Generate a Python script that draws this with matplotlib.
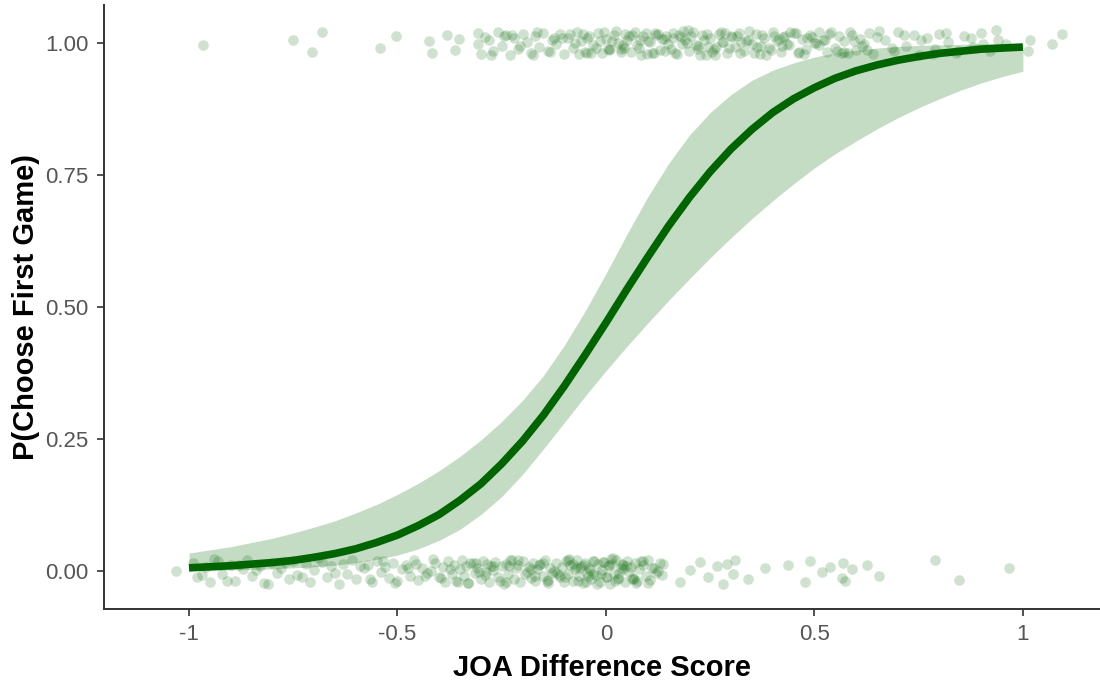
import numpy as np
import matplotlib
matplotlib.use("Agg")
import matplotlib.pyplot as plt

# ---------------- data ----------------
curve_x = [-1.0, -0.95, -0.9, -0.85, -0.8, -0.75, -0.7, -0.65, -0.6, -0.55, -0.5,
           -0.45, -0.4, -0.35, -0.3, -0.25, -0.2, -0.15, -0.1, -0.05, 0.0,
           0.05, 0.1, 0.15, 0.2, 0.25, 0.3, 0.35, 0.4, 0.45, 0.5,
           0.55, 0.6, 0.65, 0.7, 0.75, 0.8, 0.85, 0.9, 0.95, 1.0]
curve_p = [0.006, 0.008, 0.010, 0.013, 0.016, 0.020, 0.026, 0.033, 0.042, 0.054, 0.068,
           0.086, 0.107, 0.134, 0.165, 0.203, 0.246, 0.295, 0.350, 0.409, 0.470,
           0.533, 0.594, 0.653, 0.707, 0.756, 0.799, 0.836, 0.868, 0.894, 0.915,
           0.933, 0.947, 0.958, 0.967, 0.974, 0.980, 0.984, 0.988, 0.990, 0.992]
ci_low = [0.001, 0.001, 0.002, 0.003, 0.004, 0.006, 0.008, 0.011, 0.016, 0.022, 0.030,
          0.042, 0.058, 0.079, 0.107, 0.141, 0.183, 0.231, 0.281, 0.331, 0.379,
          0.425, 0.469, 0.512, 0.553, 0.593, 0.631, 0.667, 0.701, 0.733, 0.763,
          0.790, 0.814, 0.837, 0.858, 0.877, 0.894, 0.910, 0.924, 0.936, 0.946]
ci_high = [0.034, 0.040, 0.046, 0.054, 0.062, 0.072, 0.083, 0.095, 0.110, 0.126, 0.145,
           0.166, 0.190, 0.217, 0.248, 0.283, 0.323, 0.370, 0.427, 0.492, 0.563,
           0.637, 0.708, 0.771, 0.825, 0.868, 0.902, 0.929, 0.948, 0.962, 0.973,
           0.981, 0.986, 0.990, 0.993, 0.995, 0.996, 0.997, 0.998, 0.999, 0.999]

# observed choices: outcome 0 (second game) and 1 (first game)
zero_x = [-1.03, -0.99, -0.98, -0.96, -0.95, -0.93, -0.92, -0.90, -0.89, -0.87,
          -0.86, -0.85, -0.83, -0.82, -0.80, -0.79, -0.78, -0.76, -0.75, -0.74,
          -0.72, -0.71, -0.70, -0.68, -0.67, -0.66, -0.64, -0.63, -0.62, -0.61,
          -0.60, -0.58, -0.57, -0.56, -0.55, -0.54, -0.53, -0.52, -0.51, -0.50,
          -0.49, -0.48, -0.47, -0.46, -0.45, -0.44, -0.43, -0.42, -0.41, -0.40,
          -0.39, -0.385, -0.38, -0.37, -0.365, -0.36, -0.35, -0.345, -0.34, -0.335,
          -0.33, -0.32, -0.315, -0.31, -0.30, -0.295, -0.29, -0.285, -0.28, -0.27,
          -0.265, -0.26, -0.25, -0.245, -0.24, -0.235, -0.23, -0.22, -0.215, -0.21,
          -0.205, -0.20, -0.19, -0.185, -0.18, -0.175, -0.17, -0.165, -0.16, -0.15,
          -0.145, -0.14, -0.135, -0.13, -0.125, -0.12, -0.11, -0.105, -0.10, -0.095,
          -0.09, -0.085, -0.08, -0.075, -0.07, -0.065, -0.06, -0.055, -0.05, -0.045,
          -0.04, -0.035, -0.03, -0.025, -0.02, -0.015, -0.01, -0.005, 0.0, 0.005,
          0.01, 0.015, 0.02, 0.025, 0.03, 0.035, 0.04, 0.045, 0.05, 0.055,
          0.06, 0.065, 0.07, 0.075, 0.08, 0.09, 0.095, 0.10, 0.105, 0.11,
          0.12, 0.125, 0.13, -0.098, -0.072, -0.048, -0.028, -0.012, 0.008, 0.022,
          0.042, -0.21, -0.17, -0.27, -0.33, -0.152, -0.118, -0.062, 0.062, 0.085,
          0.134, 0.137, 0.177, 0.201, 0.225, 0.245, 0.266, 0.281, 0.290, 0.305,
          0.309, 0.341, 0.381, 0.436, 0.477, 0.489, 0.518, 0.537, 0.566, 0.568,
          0.573, 0.590, 0.626, 0.655, 0.789, 0.847, 0.966]
zero_x_more = [-0.97, -0.94, -0.91, -0.88, -0.84, -0.81, -0.77, -0.73, -0.69, -0.65,
               -0.59, -0.565, -0.535, -0.505, -0.475, -0.455, -0.435, -0.415, -0.395, -0.375,
               -0.355, -0.325, -0.305, -0.275, -0.255, -0.225, -0.195, -0.158, -0.138, -0.112,
               -0.088, -0.068, -0.052, -0.038, -0.022, -0.008, 0.003, 0.018, 0.032, 0.048,
               0.068, 0.088, 0.102, 0.115, -0.078, -0.042, 0.012, 0.028, -0.18, -0.24,
               -0.312, -0.288, -0.232, -0.142, -0.092, -0.032, 0.038, 0.072]
one_x = [-0.966, -0.751, -0.705, -0.681, -0.542, -0.504, -0.424, -0.417, -0.381, -0.362,
         -0.353, -0.307, -0.307,
         -0.30, -0.29, -0.28, -0.27, -0.26, -0.25, -0.24, -0.23, -0.22, -0.21,
         -0.20, -0.19, -0.18, -0.17, -0.16, -0.15, -0.14, -0.13, -0.12, -0.11,
         -0.10, -0.09, -0.08, -0.07, -0.06, -0.05, -0.04, -0.03, -0.02, -0.01,
         0.00, 0.01, 0.02, 0.03, 0.04, 0.05, 0.06, 0.07, 0.08, 0.09,
         0.10, 0.11, 0.12, 0.13, 0.14, 0.15, 0.16, 0.17, 0.18, 0.19,
         0.20, 0.21, 0.22, 0.23, 0.24, 0.25, 0.26, 0.27, 0.28, 0.29,
         0.30, 0.31, 0.32, 0.33, 0.34, 0.35, 0.36, 0.37, 0.38, 0.39,
         0.40, 0.41, 0.42, 0.43, 0.44, 0.45, 0.46, 0.47, 0.48, 0.49,
         0.50, 0.51, 0.52, 0.53, 0.54, 0.55, 0.56, 0.57, 0.58, 0.59,
         0.60, 0.61, 0.62, 0.63, 0.64, 0.65, 0.67, 0.69, 0.70, 0.72,
         0.74, 0.75, 0.77, 0.79, 0.80, 0.82, 0.84, 0.86, 0.88, 0.90,
         0.92, 0.94, 0.96,
         -0.085, -0.065, -0.045, -0.025, -0.005, 0.015, 0.035, 0.055, 0.075, 0.095,
         0.115, 0.135, 0.155, 0.175, 0.195, 0.215, 0.235, 0.255, 0.275, 0.295,
         0.315, 0.335, 0.355, 0.375, 0.395, 0.415, 0.435, 0.455, 0.475, 0.495,
         0.525, 0.555, 0.585, 0.615, -0.225, -0.175, -0.125, 0.005, 0.045, 0.105,
         0.165, 0.205, 0.245, 0.285,
         1.012, 1.017, 1.070, 1.094]
one_x_more = [-0.275, -0.245, -0.205, -0.165, -0.135, -0.105, -0.075, -0.055, -0.035, -0.015,
              0.008, 0.025, 0.043, 0.062, 0.082, 0.098, 0.118, 0.142, 0.162, 0.183,
              0.198, 0.222, 0.242, 0.262, 0.278, 0.302, 0.322, 0.343, 0.362, 0.383,
              0.402, 0.422, 0.442, 0.462, 0.482, 0.505, 0.535, 0.565, 0.595, 0.625,
              0.655, 0.685, 0.715, 0.755, 0.785, 0.815, 0.845, 0.875, 0.905, 0.935,
              0.035, 0.125, 0.225, 0.325, 0.425, -0.045, 0.185, 0.265, 0.085, 0.145,
              0.372, 0.512, 0.572]

# vertical jitter offsets used for display
jitter = [0.000, 0.015, -0.012, 0.008, -0.020, 0.018, -0.005, 0.012, -0.018, 0.004,
          0.020, -0.010, 0.010, -0.022, 0.016, -0.003, 0.006, -0.015, 0.019, -0.008,
          0.013, -0.020, 0.002, 0.017, -0.012, 0.009, -0.024, 0.014, -0.006, 0.020,
          -0.016, 0.005, 0.011, -0.021, 0.018, -0.002, 0.008, -0.013, 0.015, -0.019,
          0.003, 0.012, -0.009, 0.021, -0.017, 0.006, -0.004]
jitter2 = [-0.007, 0.022, -0.019, 0.011, 0.001, -0.024, 0.017, -0.011, 0.024, -0.003,
           0.009, -0.016, 0.019, -0.022, 0.006, 0.014, -0.009, 0.023, -0.014, 0.003,
           -0.020, 0.016, -0.001, 0.010, -0.018, 0.021, -0.006, 0.013, -0.023]

x_ticks = [-1, -0.5, 0, 0.5, 1]
x_tick_labels = ["-1", "-0.5", "0", "0.5", "1"]
y_ticks = [0.0, 0.25, 0.5, 0.75, 1.0]
y_tick_labels = ["0.00", "0.25", "0.50", "0.75", "1.00"]
x_label = "JOA Difference Score"
y_label = "P(Choose First Game)"

# ---------------- plot ----------------
plt.rcParams['font.family'] = ['Liberation Sans', 'DejaVu Sans']
green = "#006400"

fig = plt.figure(figsize=(11.0, 6.82), dpi=100)
ax = fig.add_axes([0.0945, 0.107, 0.9055, 0.886])

pt = dict(s=58, color=green, alpha=0.19, linewidths=0, zorder=2)
ax.scatter(zero_x, 0 + np.resize(np.array(jitter), len(zero_x)), **pt)
ax.scatter(zero_x_more, 0 + np.resize(np.array(jitter2), len(zero_x_more)), **pt)
ax.scatter(one_x, 1 + np.resize(np.array(jitter[::-1]), len(one_x)), **pt)
ax.scatter(one_x_more, 1 + np.resize(np.array(jitter2[::-1]), len(one_x_more)), **pt)

ax.fill_between(curve_x, ci_low, ci_high, color=green, alpha=0.23, linewidth=0, zorder=3)
ax.plot(curve_x, curve_p, color=green, linewidth=5.5, solid_capstyle='butt',
        solid_joinstyle='round', zorder=4)

ax.set_xlim(-1.204, 1.185)
ax.set_ylim(-0.072, 1.072)
ax.set_xticks(x_ticks)
ax.set_xticklabels(x_tick_labels)
ax.set_yticks(y_ticks)
ax.set_yticklabels(y_tick_labels)

for s in ["top", "right"]:
    ax.spines[s].set_visible(False)
for s in ["left", "bottom"]:
    ax.spines[s].set_color("#333333")
    ax.spines[s].set_linewidth(1.4)
ax.tick_params(axis="both", colors="#333333", length=5, width=1.2,
               labelsize=16, labelcolor="#555555", pad=6)

ax.set_xlabel(x_label, fontsize=21, fontweight="bold", color="black", labelpad=6)
ax.set_ylabel(y_label, fontsize=21, fontweight="bold", color="black", labelpad=4)

fig.savefig("out.png", dpi=100)
